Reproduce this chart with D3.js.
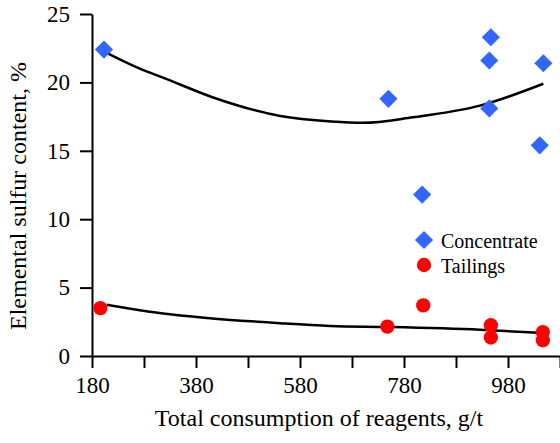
<!DOCTYPE html>
<html>
<head>
<meta charset="utf-8">
<script src="https://cdn.jsdelivr.net/npm/d3@7"></script>
<style>
  body { margin: 0; background: #fff; }
  .axis path, .axis line { stroke: #000; stroke-width: 2px; }
</style>
</head>
<body>
<svg id="chart"></svg>
<script>
// values
const concentrateX = [203, 750, 815, 947, 944, 944, 1048, 1041];
const concentrateY = [22.4, 18.8, 11.8, 23.3, 21.6, 18.1, 21.4, 15.4];
const tailingsX = [196, 748, 817, 947, 947, 1047, 1047];
const tailingsY = [3.5, 2.15, 3.7, 2.25, 1.35, 1.75, 1.15];

// trend lines
const concentrateTrendX = [211, 272, 320, 413, 542, 640, 701, 797, 926, 1048];
const concentrateTrendY = [22.1, 21.0, 20.3, 18.9, 17.55, 17.15, 17.05, 17.45, 18.3, 19.9];
const tailingsTrendX = [208, 272, 330, 396, 542, 638, 747, 926, 1048];
const tailingsTrendY = [3.75, 3.35, 3.05, 2.8, 2.4, 2.2, 2.12, 1.92, 1.68];

const xTicks = [180, 280, 380, 480, 580, 680, 780, 880, 980, 1080];
const xTickLabels = ['180', '', '380', '', '580', '', '780', '', '980', ''];
const yTicks = [0, 5, 10, 15, 20, 25];

const seriesNames = ['Concentrate', 'Tailings'];

const FONT = "'Liberation Serif', 'Times New Roman', Times, 'DejaVu Serif', serif";

class TrendScatter {

  constructor(_config) {
    this.config = {
      parentElement: _config.parentElement,
      containerWidth: 560,
      containerHeight: 443,
      margin: { top: 14, right: 0, bottom: 87, left: 92 }
    };
    this.colors = { Concentrate: '#3366ff', Tailings: '#ff0000' };
    this.initVis();
  }

  initVis() {
    let vis = this;

    vis.width = vis.config.containerWidth - vis.config.margin.left - vis.config.margin.right;
    vis.height = vis.config.containerHeight - vis.config.margin.top - vis.config.margin.bottom;

    vis.xScale = d3.scaleLinear().domain([180, 1080]).range([0, vis.width]);
    vis.yScale = d3.scaleLinear().domain([0, 25]).range([vis.height, 0]);

    vis.xAxis = d3.axisBottom(vis.xScale)
      .tickValues(xTicks)
      .tickFormat((d, i) => xTickLabels[i])
      .tickSize(12)
      .tickSizeOuter(0)
      .tickPadding(9);

    vis.yAxis = d3.axisLeft(vis.yScale)
      .tickValues(yTicks)
      .tickSize(12)
      .tickSizeOuter(0)
      .tickPadding(10);

    vis.svg = d3.select(vis.config.parentElement)
      .attr('width', vis.config.containerWidth)
      .attr('height', vis.config.containerHeight);

    vis.chart = vis.svg.append('g')
      .attr('transform', `translate(${vis.config.margin.left},${vis.config.margin.top})`);

    vis.xAxisG = vis.chart.append('g')
      .attr('class', 'axis')
      .attr('transform', `translate(0,${vis.height})`);
    vis.yAxisG = vis.chart.append('g').attr('class', 'axis');

    // axis titles
    vis.svg.append('text')
      .attr('x', 319)
      .attr('y', 426)
      .attr('text-anchor', 'middle')
      .style('font-family', FONT)
      .style('font-size', '24px')
      .text('Total consumption of reagents, g/t');

    vis.svg.append('text')
      .attr('transform', 'translate(26,196) rotate(-90)')
      .attr('text-anchor', 'middle')
      .style('font-family', FONT)
      .style('font-size', '24px')
      .text('Elemental sulfur content, %');

    vis.lineGenerator = d3.line()
      .x(d => vis.xScale(d[0]))
      .y(d => vis.yScale(d[1]))
      .curve(d3.curveMonotoneX);

    vis.diamond = d3.symbol().type(d3.symbolSquare).size(165);
    vis.circle = d3.symbol().type(d3.symbolCircle).size(160);
  }

  updateVis() {
    let vis = this;

    vis.xAxisG.call(vis.xAxis);
    vis.yAxisG.call(vis.yAxis);
    vis.chart.selectAll('.axis text')
      .style('font-family', FONT)
      .style('font-size', '23px')
      .attr('fill', '#000');

    const trends = [
      d3.zip(concentrateTrendX, concentrateTrendY),
      d3.zip(tailingsTrendX, tailingsTrendY)
    ];

    vis.chart.selectAll('.trend')
      .data(trends)
      .join('path')
      .attr('class', 'trend')
      .attr('d', d => vis.lineGenerator(d))
      .attr('fill', 'none')
      .attr('stroke', '#000')
      .attr('stroke-width', 2.5);

    vis.chart.selectAll('.concentrate')
      .data(d3.zip(concentrateX, concentrateY))
      .join('path')
      .attr('class', 'concentrate')
      .attr('d', vis.diamond)
      .attr('transform', d => `translate(${vis.xScale(d[0])},${vis.yScale(d[1])}) rotate(45)`)
      .attr('fill', vis.colors.Concentrate);

    vis.chart.selectAll('.tailings')
      .data(d3.zip(tailingsX, tailingsY))
      .join('path')
      .attr('class', 'tailings')
      .attr('d', vis.circle)
      .attr('transform', d => `translate(${vis.xScale(d[0])},${vis.yScale(d[1])})`)
      .attr('fill', vis.colors.Tailings);

    // legend
    let legend = vis.svg.selectAll('.legend-item')
      .data(seriesNames)
      .join('g')
      .attr('class', 'legend-item')
      .attr('transform', (d, i) => `translate(424,${240 + i * 25})`);

    legend.append('path')
      .attr('d', (d, i) => i === 0 ? vis.diamond() : vis.circle())
      .attr('transform', (d, i) => i === 0 ? 'rotate(45)' : null)
      .attr('fill', d => vis.colors[d]);

    legend.append('text')
      .attr('x', 17)
      .attr('y', 7.5)
      .style('font-family', FONT)
      .style('font-size', '20px')
      .text(d => d);
  }
}

const chart = new TrendScatter({ parentElement: '#chart' });
chart.updateVis();
</script>
</body>
</html>
